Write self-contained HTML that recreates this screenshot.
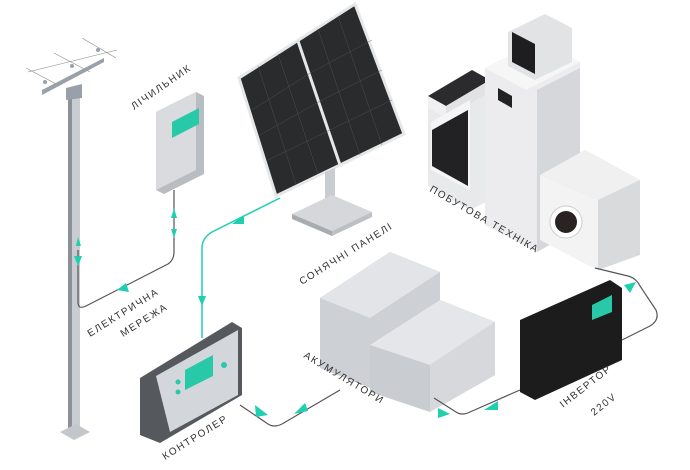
<!DOCTYPE html>
<html><head><meta charset="utf-8"><style>
html,body{margin:0;padding:0;background:#fff;width:690px;height:470px;overflow:hidden}
svg text{font-family:"Liberation Sans",sans-serif;font-size:10px;fill:#333;letter-spacing:1.6px}
</style></head><body>
<svg width="690" height="470" viewBox="0 0 690 470" xmlns="http://www.w3.org/2000/svg">
<!-- pole -->
<line x1="28" y1="72" x2="117" y2="50" stroke="#888" stroke-width="0.6"/>
<line x1="26" y1="68" x2="58" y2="85" stroke="#888" stroke-width="0.6"/>
<line x1="54" y1="53" x2="90" y2="72" stroke="#888" stroke-width="0.6"/>
<line x1="82" y1="38" x2="116" y2="58" stroke="#888" stroke-width="0.6"/>
<polygon points="42,90 104,58 104,62 42,95" fill="#9aa0aa"/>
<polygon points="68,92 80,88 80,428 68,430" fill="#c9ccd1"/>
<polygon points="68,92 72,91 72,430 68,430" fill="#8c9097"/>
<polygon points="66,88 82,84 82,98 66,100" fill="#9aa0aa"/>
<polygon points="60,432 76,424 90,432 74,440" fill="#c3c6ca"/>
<circle cx="45" cy="82" r="2" fill="#9aa0aa"/><circle cx="72" cy="66" r="2" fill="#9aa0aa"/><circle cx="98" cy="50" r="2" fill="#9aa0aa"/>
<!-- meter -->
<polygon points="156,112 196,92 204,96 204,174 164,194 156,190" fill="#b9bcc1"/>
<polygon points="156,112 196,92 196,170 156,190" fill="#d9dbde"/>
<polygon points="172,122 199,108 199,124 172,138" fill="#27c9a8"/>
<!-- grid line -->
<path d="M78,250 L78,302 Q78,310 86,306 L168,264 Q174,260 174,252 L174,190" fill="none" stroke="#555" stroke-width="1.2"/>
<polygon points="76,246 81,246 78,237" fill="#1fcfb0"/><polygon points="74,256 82,256 78,266" fill="#1fcfb0"/>
<polygon points="126,283 117,290 129,292" fill="#1fcfb0"/>
<polygon points="171,218 177,218 174,208" fill="#1fcfb0"/><polygon points="171,229 177,229 174,238" fill="#1fcfb0"/>
<!-- solar -->
<polygon points="239,78 355,4 404,134 276,196" fill="#2a2b2d" stroke="#e6e7e9" stroke-width="3"/>
<line x1="298" y1="41" x2="340" y2="165" stroke="#e6e7e9" stroke-width="3"/>
<g stroke="#555" stroke-width="0.5" opacity="0.8">
<line x1="252" y1="110" x2="312" y2="72"/><line x1="260" y1="135" x2="322" y2="100"/><line x1="268" y1="160" x2="330" y2="130"/>
<line x1="312" y1="72" x2="372" y2="40"/><line x1="322" y1="100" x2="382" y2="70"/><line x1="330" y1="130" x2="392" y2="100"/>
<line x1="258" y1="66" x2="296" y2="184"/><line x1="278" y1="54" x2="318" y2="174"/><line x1="318" y1="29" x2="360" y2="155"/><line x1="338" y1="16" x2="382" y2="145"/>
</g>
<polygon points="325,172 335,168 335,205 325,208" fill="#c9ccd1"/>
<polygon points="292,214 332,195 372,212 332,231" fill="#d5d7da"/>
<polygon points="292,214 332,231 332,236 292,219" fill="#a8abb0"/><polygon points="332,231 372,212 372,217 332,236" fill="#bcc0c4"/>
<!-- panel to controller -->
<path d="M280,198 L212,232 Q202,238 202,248 L202,338" fill="none" stroke="#1fcfb0" stroke-width="1.5"/>
<polygon points="232,224 244,215 244,224" fill="#1fcfb0"/><polygon points="198,296 206,296 202,306" fill="#1fcfb0"/>
<!-- appliances -->
<polygon points="428,96 472,70 490,80 490,200 470,210 428,186" fill="#e8e9eb"/>
<polygon points="428,96 472,70 490,80 446,106" fill="#2b2b2d"/>
<polygon points="428,96 446,106 446,118 428,108" fill="#f0f0f2"/>
<polygon points="446,106 490,80 490,92 446,118" fill="#e2e2e4"/>
<polygon points="431,122 470,100 470,190 431,170" fill="#f5f5f6"/>
<polygon points="432,130 468,110 468,186 432,166" fill="#222224"/>
<polygon points="485,68 540,40 580,62 580,228 537,252 485,225" fill="#ececee"/>
<polygon points="485,68 540,40 580,62 526,90" fill="#f6f6f7"/>
<polygon points="537,90 580,68 580,228 537,252" fill="#d6d7da"/>
<polygon points="498,88 512,96 512,108 498,100" fill="#222"/>
<polygon points="508,32 545,14 572,28 572,62 535,80 508,66" fill="#e2e3e5"/>
<polygon points="512,32 535,44 535,74 512,62" fill="#1e1e20"/>
<polygon points="540,175 585,150 640,180 640,255 598,270 540,240" fill="#d9dadc"/>
<polygon points="540,175 585,150 640,180 598,200" fill="#f0f0f1"/>
<polygon points="540,175 598,200 598,270 540,240" fill="#f3f3f4"/>
<circle cx="566" cy="222" r="16" fill="#fff" stroke="#ccc"/><circle cx="566" cy="222" r="11" fill="#2a2323"/>
<!-- batteries -->
<polygon points="320,298 390,252 440,272 440,340 370,388 320,368" fill="#cdd0d4"/>
<polygon points="320,298 390,252 440,272 370,318" fill="#e2e4e7"/>
<polygon points="370,345 440,300 495,322 495,375 430,412 370,392" fill="#c9ccd0"/>
<polygon points="370,345 440,300 495,322 430,365" fill="#e4e6e9"/>
<polygon points="430,365 495,322 495,375 430,412" fill="#d6d8dc"/>
<!-- controller -->
<polygon points="140,378 232,322 242,328 242,395 160,443 140,435" fill="#55585d"/>
<polygon points="156,376 238,330 238,395 170,432" fill="#d3d6da"/>
<polygon points="185,370 213,355 213,376 185,390" fill="#27c9a8"/>
<circle cx="178" cy="382" r="2.5" fill="#27c9a8"/><circle cx="178" cy="392" r="2.5" fill="#27c9a8"/><circle cx="224" cy="365" r="3" fill="#27c9a8"/>
<!-- inverter -->
<polygon points="520,320 610,280 622,288 622,360 535,400 520,392" fill="#1c1c1d"/>
<polygon points="592,305 612,295 612,312 592,320" fill="#27c9a8"/>
<!-- lines -->
<path d="M240,405 L268,424 Q274,428 282,424 L340,390" fill="none" stroke="#555" stroke-width="1.2"/>
<polygon points="255,405 268,415 256,417" fill="#1fcfb0"/><polygon points="294,414 305,403 308,411" fill="#1fcfb0"/>
<path d="M434,398 L456,412 Q462,416 470,412 L520,390" fill="none" stroke="#555" stroke-width="1.2"/>
<polygon points="438,408 450,414 438,418" fill="#1fcfb0"/><polygon points="484,410 498,401 498,410" fill="#1fcfb0"/>
<path d="M622,340 L650,326 Q660,320 656,310 L640,286 Q636,278 628,276 L595,268" fill="none" stroke="#555" stroke-width="1.2"/>
<polygon points="624,285 636,282 630,293" fill="#1fcfb0"/>
<!-- labels -->
<text transform="translate(134,110) rotate(-35)">ЛІЧИЛЬНИК</text>
<text transform="translate(302,285) rotate(-32)">СОНЯЧНІ ПАНЕЛІ</text>
<text transform="translate(429,191) rotate(30)">ПОБУТОВА ТЕХНІКА</text>
<text transform="translate(90,337) rotate(-32)">ЕЛЕКТРИЧНА</text>
<text transform="translate(123,337) rotate(-32)">МЕРЕЖА</text>
<text transform="translate(165,460) rotate(-32)">КОНТРОЛЕР</text>
<text transform="translate(303,357) rotate(31)">АКУМУЛЯТОРИ</text>
<text transform="translate(563,408) rotate(-38)">ІНВЕРТОР</text>
<text transform="translate(594,416) rotate(-38)">220V</text>
</svg>
</body></html>
